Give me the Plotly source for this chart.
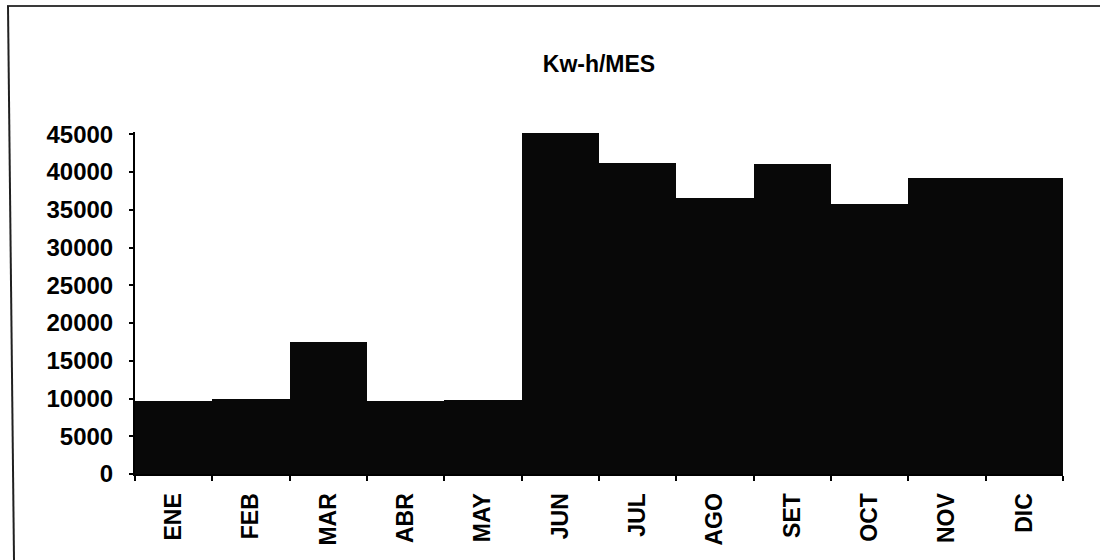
import plotly.graph_objects as go

# Monthly energy consumption (kWh per month)
meses = ["ENE", "FEB", "MAR", "ABR", "MAY", "JUN",
         "JUL", "AGO", "SET", "OCT", "NOV", "DIC"]
kwh_mes = [9700, 10000, 17500, 9700, 9800, 45200,
           41200, 36500, 41000, 35800, 39200, 39200]
y_ticks = [0, 5000, 10000, 15000, 20000, 25000, 30000, 35000, 40000, 45000]

W, H = 1112, 560
L, R, T, B = 135, 49, 132, 86
pw, ph = W - L - R, H - T - B


def px_x(x):
    return (x - L) / pw


def px_y(y):
    return (H - B - y) / ph


FONT = dict(family="Arial, Liberation Sans, sans-serif", size=24,
            color="#000000", weight="bold")

fig = go.Figure(
    go.Bar(
        x=meses,
        y=kwh_mes,
        marker=dict(color="#080808", line=dict(width=0)),
        hoverinfo="x+y",
    )
)

fig.update_layout(
    width=W,
    height=H,
    margin=dict(l=L, r=R, t=T, b=B),
    paper_bgcolor="#ffffff",
    plot_bgcolor="#ffffff",
    bargap=0,
    showlegend=False,
    font=FONT,
    title=dict(
        text="Kw-h/MES",
        x=0.5,
        xref="paper",
        xanchor="center",
        y=1 - 64 / H,
        yref="container",
        yanchor="middle",
        font=dict(FONT, size=23),
    ),
)

fig.update_xaxes(
    type="category",
    tickangle=-90,
    tickson="boundaries",
    ticks="outside",
    ticklen=5,
    tickwidth=1.5,
    tickcolor="#000000",
    showline=True,
    linecolor="#000000",
    linewidth=2,
    showgrid=False,
    zeroline=False,
    tickfont=dict(FONT, size=23),
    ticklabelstandoff=8,
)

fig.update_yaxes(
    range=[0, 45300],
    tickvals=y_ticks,
    ticktext=[str(v) for v in y_ticks],
    ticks="outside",
    ticklen=4,
    tickwidth=1.5,
    tickcolor="#000000",
    showline=True,
    linecolor="#000000",
    linewidth=2,
    showgrid=False,
    zeroline=False,
    tickfont=FONT,
    ticklabelstandoff=11,
)

# Frame around the chart: top edge and left edge
fig.add_shape(type="line", xref="paper", yref="paper",
              x0=px_x(7), y0=px_y(6), x1=px_x(1100), y1=px_y(6),
              line=dict(color="#3a3a3a", width=2))
fig.add_shape(type="line", xref="paper", yref="paper",
              x0=px_x(8), y0=px_y(6), x1=px_x(14), y1=px_y(560),
              line=dict(color="#202020", width=2))

fig.write_html("out.html")
